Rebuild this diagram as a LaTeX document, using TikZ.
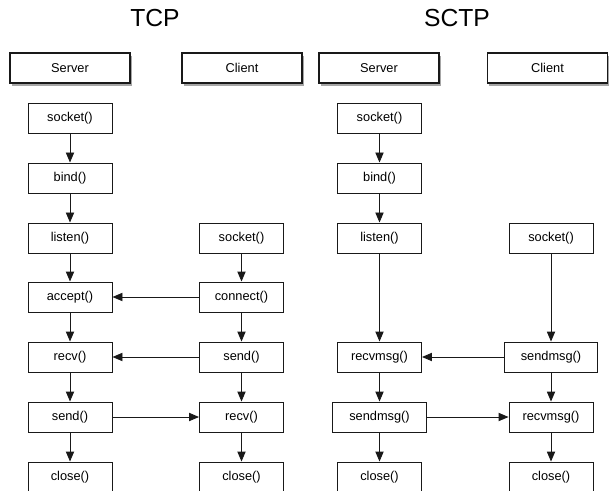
\documentclass[tikz,border=0pt]{standalone}
\usepackage{fontspec}
\setmainfont{Liberation Sans}
\usetikzlibrary{arrows.meta,shadows}
\begin{document}
\begin{tikzpicture}[x=0.75pt,y=-0.75pt,
  fn/.style={draw=black!90,line width=0.7pt,fill=white,minimum width=63pt,minimum height=22.5pt,inner sep=0pt,font=\fontsize{9.6pt}{11pt}\selectfont},
  fnw/.style={fn,minimum width=70pt},
  hdr/.style={fn,minimum width=90pt,line width=0.8pt,drop shadow={shadow xshift=1.2pt,shadow yshift=-2.2pt,opacity=0.35,fill=black}},
  ttl/.style={font=\fontsize{18.5pt}{22pt}\selectfont,inner sep=0pt},
  arr/.style={draw=black!90,line width=0.7pt,-{Triangle[length=7.5pt,width=6.2pt]}}]
\useasboundingbox (0,0) rectangle (609,491);
\clip (0,0) rectangle (609,491);
% titles
\node[ttl] (ttcp) at (155,18.5) {TCP};
\node[ttl] (tsctp) at (457,18.5) {SCTP};
% headers
\node[hdr] (hs1) at (70,68) {Server};
\node[hdr] (hc1) at (242,68) {Client};
\node[hdr] (hs2) at (379,68) {Server};
\node[hdr] (hc2) at (547.5,68) {Client};
% TCP server
\node[fn] (s1) at (70,118) {socket()};
\node[fn] (s2) at (70,178) {bind()};
\node[fn] (s3) at (70,238) {listen()};
\node[fn] (s4) at (70,297) {accept()};
\node[fn] (s5) at (70,357) {recv()};
\node[fn] (s6) at (70,417) {send()};
\node[fn] (s7) at (70,477) {close()};
% TCP client
\node[fn] (c3) at (241.5,238) {socket()};
\node[fn] (c4) at (241.5,297) {connect()};
\node[fn] (c5) at (241.5,357) {send()};
\node[fn] (c6) at (241.5,417) {recv()};
\node[fn] (c7) at (241.5,477) {close()};
% SCTP server
\node[fn] (p1) at (379.5,118) {socket()};
\node[fn] (p2) at (379.5,178) {bind()};
\node[fn] (p3) at (379.5,238) {listen()};
\node[fn] (p5) at (379.5,357) {recvmsg()};
\node[fnw] (p6) at (379.5,417) {sendmsg()};
\node[fn] (p7) at (379.5,477) {close()};
% SCTP client
\node[fn] (q3) at (551,238) {socket()};
\node[fnw] (q5) at (551,357) {sendmsg()};
\node[fn] (q6) at (551,417) {recvmsg()};
\node[fn] (q7) at (551,477) {close()};
% arrows TCP
\draw[arr] (s1) -- (s2);
\draw[arr] (s2) -- (s3);
\draw[arr] (s3) -- (s4);
\draw[arr] (s4) -- (s5);
\draw[arr] (s5) -- (s6);
\draw[arr] (s6) -- (s7);
\draw[arr] (c3) -- (c4);
\draw[arr] (c4) -- (c5);
\draw[arr] (c5) -- (c6);
\draw[arr] (c6) -- (c7);
\draw[arr] (c4) -- (s4);
\draw[arr] (c5) -- (s5);
\draw[arr] (s6) -- (c6);
% arrows SCTP
\draw[arr] (p1) -- (p2);
\draw[arr] (p2) -- (p3);
\draw[arr] (p3) -- (p5);
\draw[arr] (p5) -- (p6);
\draw[arr] (p6) -- (p7);
\draw[arr] (q3) -- (q5);
\draw[arr] (q5) -- (q6);
\draw[arr] (q6) -- (q7);
\draw[arr] (q5) -- (p5);
\draw[arr] (p6) -- (q6);
\end{tikzpicture}
\end{document}
